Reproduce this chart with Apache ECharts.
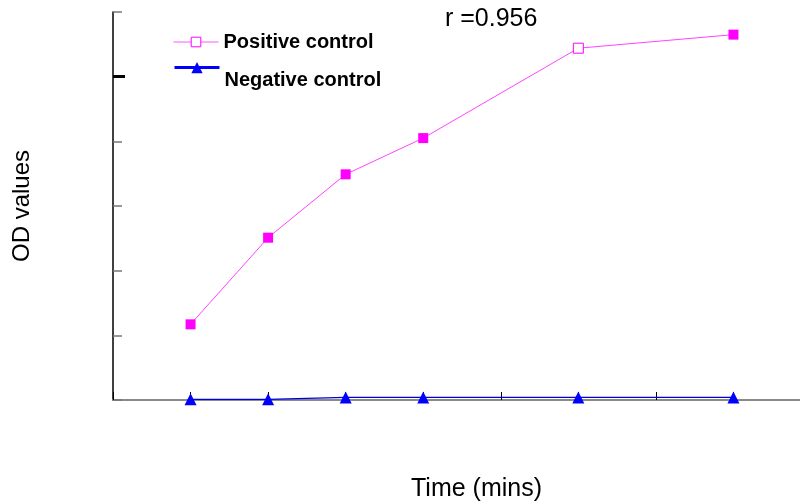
<!DOCTYPE html>
<html>
<head>
<meta charset="utf-8">
<script src="https://cdn.jsdelivr.net/npm/echarts@6/dist/echarts.min.js"></script>
<style>html,body{margin:0;padding:0;background:#fff;overflow:hidden}#c{width:800px;height:502px}</style>
</head>
<body>
<div id="c"></div>
<script>
// Data (y in units of the unlabeled tick spacing)
var timeMins = [5, 10, 15, 20, 30, 40];
var positiveControl = [1.17, 2.51, 3.49, 4.05, 5.44, 5.65];
var negativeControl = [0.01, 0.01, 0.04, 0.04, 0.04, 0.04];
var seriesNames = ['Positive control', 'Negative control'];
var annotation = 'r =0.956';
var xTitle = 'Time (mins)';
var yTitle = 'OD values';

function pairs(xs, ys) { return xs.map(function (x, i) { return [x, ys[i]]; }); }

var posData = pairs(timeMins, positiveControl).map(function (p, i) {
  if (i === 4) return { value: p, itemStyle: { color: '#ffffff', borderColor: '#ff00ff', borderWidth: 1 } };
  return p;
});

var chart = echarts.init(document.getElementById('c'), null, { renderer: 'canvas' });
var font = '"Liberation Sans", Arial, sans-serif';
chart.setOption({
  backgroundColor: '#ffffff',
  animation: false,
  title: [{
    text: annotation, left: 445, top: 7, padding: 0,
    textStyle: { fontFamily: font, fontSize: 25, fontWeight: 'normal', color: '#000' }
  }, {
    text: xTitle, left: 411, top: 477, padding: 0,
    textStyle: { fontFamily: font, fontSize: 25, fontWeight: 'normal', color: '#000' }
  }],
  legend: [{
    left: 173, top: 32, orient: 'vertical', itemWidth: 45, itemHeight: 12, padding: 0,
    textStyle: { fontFamily: font, fontSize: 20, fontWeight: 'bold', color: '#000' },
    data: [{ name: seriesNames[0],
      itemStyle: { color: '#ffffff', borderColor: '#ff00ff', borderWidth: 1 },
      lineStyle: { color: '#ff55ff', width: 1 } }]
  }, {
    left: 173, top: 62, orient: 'vertical', itemWidth: 45, itemHeight: 14, padding: 0,
    formatter: '{a|{name}}',
    textStyle: { fontFamily: font, fontSize: 20, fontWeight: 'bold', color: '#000',
      rich: { a: { fontFamily: font, fontSize: 20, fontWeight: 'bold', color: '#000', padding: [26, 0, 0, 0] } } },
    data: [{ name: seriesNames[1],
      itemStyle: { color: '#0000ff' },
      lineStyle: { color: '#0000ff', width: 3 } }]
  }],
  grid: { left: 113, top: 12, width: 698, bottom: 102, containLabel: false, outerBoundsMode: 'none' },
  xAxis: {
    type: 'value', min: 0, max: 45, interval: 5,
    axisLine: { show: true, onZero: false, lineStyle: { color: '#8a8a8a', width: 2 } },
    axisTick: { show: true, inside: true, length: 8, lineStyle: { color: '#000', width: 1 } },
    axisLabel: { show: false },
    splitLine: { show: false }
  },
  yAxis: [{
    type: 'value', min: 0, max: 6, interval: 1,
    name: yTitle, nameLocation: 'middle', nameGap: 79, nameRotate: 90,
    nameTextStyle: { fontFamily: font, fontSize: 24, color: '#000' },
    axisLine: { show: true, lineStyle: { color: '#000', width: 1.5 } },
    axisTick: { show: true, inside: true, length: 9, lineStyle: { color: '#777', width: 1.5 } },
    axisLabel: { show: false },
    splitLine: { show: false }
  }, {
    type: 'value', min: 0, max: 6, interval: 1, position: 'left',
    axisLine: { show: false },
    axisTick: { show: true, inside: true, length: 12, customValues: [5], lineStyle: { color: '#000', width: 3 } },
    axisLabel: { show: false },
    splitLine: { show: false }
  }],
  series: [{
    name: seriesNames[0], type: 'line', data: posData,
    symbol: 'rect', symbolSize: 10,
    itemStyle: { color: '#ff00ff' },
    lineStyle: { color: '#ff44ff', width: 1 },
    z: 3
  }, {
    name: seriesNames[1], type: 'line', data: pairs(timeMins, negativeControl),
    symbol: 'triangle', symbolSize: [12, 12],
    itemStyle: { color: '#0000ff' },
    lineStyle: { color: '#0000dd', width: 1.2 },
    z: 4
  }]
});
</script>
</body>
</html>
